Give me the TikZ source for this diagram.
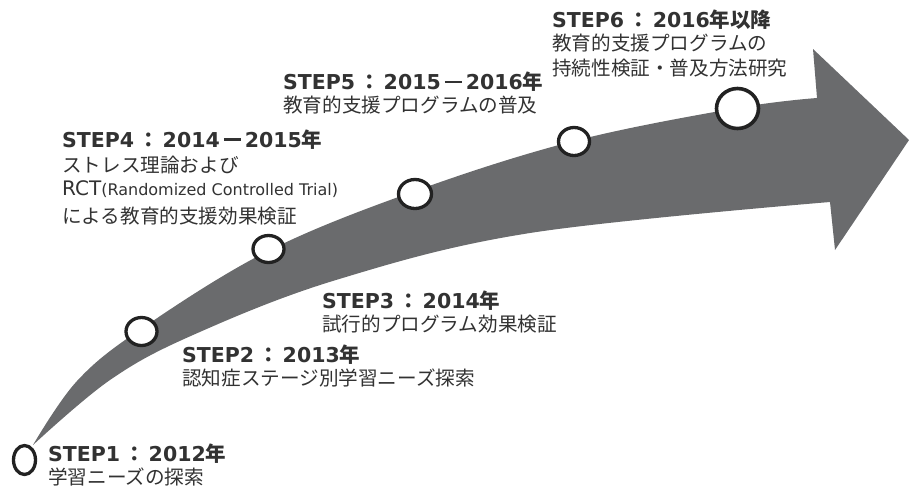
\documentclass[tikz,border=0pt]{standalone}
\usepackage{fontspec}
\usetikzlibrary{shapes.geometric}
\newfontfamily\jpfam{Noto Sans CJK JP}
\newfontfamily\jpbfam{Noto Sans CJK JP Bold}
\newfontfamily\dvfam{DejaVu Sans}
\newcommand\jpr{\fontsize{19.6}{24}\jpfam}
\newcommand\jpbo{\fontsize{20.5}{24}\jpbfam}
\newcommand\dvb{\fontsize{20.5}{24}\dvfam\bfseries}
\newcommand\dvr{\fontsize{20}{24}\dvfam}
\newcommand\dvs{\fontsize{16}{24}\dvfam}
\newcommand\stepcolon{\kern4pt{\jpbo ：}\kern4pt}
\newcommand\yrdash{\kern4pt\rule[6.2pt]{17pt}{2.6pt}\kern4pt}
\definecolor{arrowgray}{RGB}{106,107,109}
\definecolor{txt}{RGB}{50,50,50}
\definecolor{ringc}{RGB}{34,34,34}
\tikzset{
  ring/.style={ellipse, draw=ringc, fill=white, line width=3.3pt, inner sep=0pt},
  tline/.style={anchor=base west, inner sep=0pt, text=txt}
}
\begin{document}
\begin{tikzpicture}[x=1pt,y=-1pt]
\useasboundingbox (0,0) rectangle (909,488);
% arrow body
\fill[arrowgray] (33,445)
  -- plot[smooth,tension=0.6] coordinates {(33,445) (77,381) (141,329) (268,251) (415,191) (574,141) (737,108) (817,98)}
  -- (813,49) -- (909,140) -- (835,250) -- (830,202)
  -- plot[smooth,tension=0.6] coordinates {(830,202) (530,233) (336,280) (193,335) (110,380) (33,445)}
  -- cycle;
% milestones
\node[ring, minimum width=22pt, minimum height=29pt] (c1) at (24.5,460) {};
\node[ring, minimum width=31pt, minimum height=28pt] (c2) at (141.5,331.5) {};
\node[ring, minimum width=31pt, minimum height=27pt] (c3) at (268.5,249) {};
\node[ring, minimum width=33pt, minimum height=29pt] (c4) at (415,194) {};
\node[ring, minimum width=31pt, minimum height=28pt] (c5) at (574,141.5) {};
\node[ring, minimum width=42pt, minimum height=40pt, line width=3.6pt] (c6) at (737.5,108.5) {};
% labels
\node[tline] (s1a) at (48,461.5) {\dvb STEP1\stepcolon\dvb 2012\jpbo 年};
\node[tline] (s1b) at (48,484.4) {\jpr 学習ニーズの探索};
\node[tline] (s2a) at (182,362) {\dvb STEP2\stepcolon\dvb 2013\jpbo 年};
\node[tline] (s2b) at (182,385) {\jpr 認知症ステージ別学習ニーズ探索};
\node[tline] (s3a) at (322,308.5) {\dvb STEP3\stepcolon\dvb 2014\jpbo 年};
\node[tline] (s3b) at (322,331.5) {\jpr 試行的プログラム効果検証};
\node[tline] (s4a) at (62,147) {\dvb STEP4\stepcolon\dvb 2014\yrdash 2015\jpbo 年};
\node[tline] (s4b) at (62,172.5) {\jpr ストレス理論および};
\node[tline] (s4c) at (62,195.5) {\dvr RCT\dvs (Randomized Controlled Trial)};
\node[tline] (s4d) at (62,223.5) {\jpr による教育的支援効果検証};
\node[tline] (s5a) at (283,89.5) {\dvb STEP5\stepcolon\dvb 2015\yrdash 2016\jpbo 年};
\node[tline] (s5b) at (283,112.5) {\jpr 教育的支援プログラムの普及};
\node[tline] (s6a) at (552,27) {\dvb STEP6\stepcolon\dvb 2016\jpbo 年以降};
\node[tline] (s6b) at (552,50) {\jpr 教育的支援プログラムの};
\node[tline] (s6c) at (552,75) {\jpr 持続性検証・普及方法研究};
\end{tikzpicture}
\end{document}
